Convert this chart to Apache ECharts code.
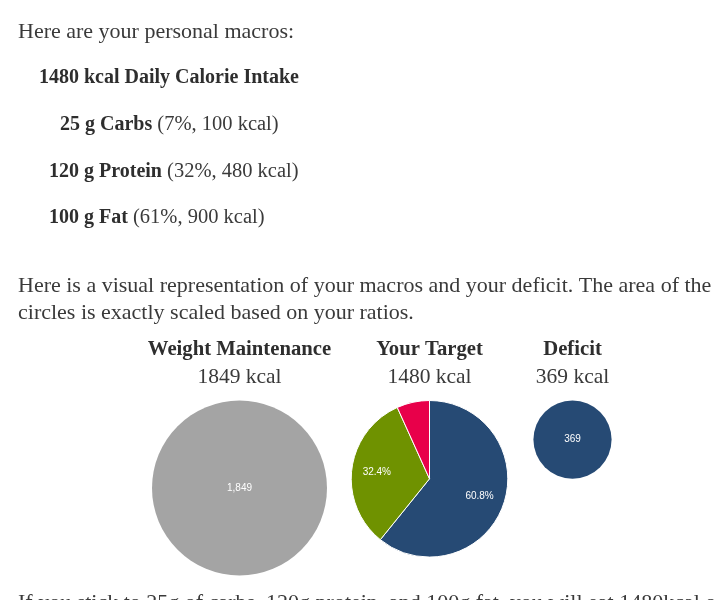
<!DOCTYPE html>
<html>
<head>
<meta charset="utf-8">
<script src="https://cdn.jsdelivr.net/npm/echarts@6/dist/echarts.min.js"></script>
<style>
  html, body { margin: 0; padding: 0; background: #fff; }
  #chart { width: 714px; height: 600px; }
</style>
</head>
<body>
<div id="chart"></div>
<script>
// circles: headers, totals
var columnNames = ['Weight Maintenance', 'Your Target', 'Deficit']
var columnKcal = [1849, 1480, 369]
// macros inside the target circle
var macroNames = ['Fat', 'Protein', 'Carbs']
var macroKcal = [900, 480, 100]
var macroGrams = [100, 120, 25]

var serif = '"Liberation Serif", "DejaVu Serif", serif'
var textColor = '#3a3a3a'
var boldColor = '#2e2e2e'
var macroColors = ['#264a74', '#6f9200', '#e8004a']

// layout of the circles
var colX = [239.5, 429.5, 572.5]
var topY = 400.5
var maxR = 87.5

function radiusOf(v) {
    return maxR * Math.sqrt(v / columnKcal[0])
}

var totalMacro = macroKcal.reduce((a, b) => a + b, 0)

var rich = {
    p: { fontFamily: serif, fontSize: 22, fill: textColor },
    b: { fontFamily: serif, fontSize: 20, fontWeight: 'bold', fill: boldColor },
    n: { fontFamily: serif, fontSize: 20.5, fill: textColor }
}

function textLine(x, y, parts) {
    return {
        type: 'text',
        x: x,
        y: y,
        style: {
            text: parts,
            fill: textColor,
            font: '20px ' + serif,
            verticalAlign: 'middle',
            rich: rich
        }
    }
}

// macro lines: "25 g Carbs (7%, 100 kcal)"
var lineOrder = [2, 1, 0]
var lineX = [60, 49, 49]
var lineY = [125, 172, 218]
var graphics = [
    textLine(18, 32, '{p|Here are your personal macros:}'),
    textLine(39, 78, '{b|' + totalMacro + ' kcal Daily Calorie Intake}')
]
lineOrder.forEach((idx, i) => {
    var pct = Math.round(macroKcal[idx] / totalMacro * 100)
    graphics.push(textLine(lineX[i], lineY[i],
        '{b|' + macroGrams[idx] + ' g ' + macroNames[idx] + '}{n| (' + pct + '%, ' + macroKcal[idx] + ' kcal)}'))
})
graphics.push(textLine(18, 286, '{p|Here is a visual representation of your macros and your deficit. The area of the}'))
graphics.push(textLine(18, 313, '{p|circles is exactly scaled based on your ratios.}'))
columnNames.forEach((name, i) => {
    graphics.push({
        type: 'text', x: colX[i], y: 350,
        style: { text: name, font: 'bold 20.7px ' + serif, fill: boldColor, align: 'center', verticalAlign: 'middle' }
    })
    graphics.push({
        type: 'text', x: colX[i], y: 377,
        style: { text: columnKcal[i] + ' kcal', font: '21.5px ' + serif, fill: textColor, align: 'center', verticalAlign: 'middle' }
    })
})
graphics.push(textLine(18, 603, '{p|If you stick to ' + macroGrams[2] + 'g of carbs, ' + macroGrams[1] + 'g protein, and ' +
    macroGrams[0] + 'g fat, you will eat ' + totalMacro + 'kcal or less}'))

var labelFont = { fontFamily: '"Liberation Sans", Arial, sans-serif', fontSize: 10, color: '#fff' }

function singlePie(i, color, text) {
    var r = radiusOf(columnKcal[i])
    return {
        type: 'pie',
        center: [colX[i], topY + r],
        radius: [0, r],
        silent: true,
        label: Object.assign({ show: true, position: 'center', formatter: text }, labelFont),
        labelLine: { show: false },
        itemStyle: { color: color },
        data: [{ name: columnNames[i], value: columnKcal[i] }]
    }
}

var rT = radiusOf(columnKcal[1])
var macroData = macroNames.map((n, i) => ({ name: n, value: macroKcal[i] }))

var option = {
    animation: false,
    graphic: graphics,
    series: [
        singlePie(0, '#a4a4a4', echarts.format.addCommas(columnKcal[0])),
        singlePie(2, '#264a74', String(columnKcal[2])),
        {
            type: 'pie',
            center: [colX[1], topY + rT],
            radius: [0, rT],
            startAngle: 90,
            clockwise: true,
            silent: true,
            label: { show: false },
            labelLine: { show: false },
            itemStyle: {
                borderColor: '#fff',
                borderWidth: 1,
                color: p => macroColors[p.dataIndex]
            },
            data: macroData
        },
        {
            // transparent copy used only to place the percent labels
            type: 'pie',
            center: [colX[1], topY + rT],
            radius: [rT * 0.28, rT],
            startAngle: 90,
            clockwise: true,
            silent: true,
            itemStyle: { color: 'rgba(0,0,0,0)' },
            labelLine: { show: false },
            label: Object.assign({
                show: true,
                position: 'inside',
                formatter: p => {
                    var pct = p.value / totalMacro * 100
                    return pct < 10 ? '' : pct.toFixed(1) + '%'
                }
            }, labelFont),
            data: macroData
        }
    ]
}

echarts.init(document.getElementById('chart')).setOption(option)
</script>
</body>
</html>
